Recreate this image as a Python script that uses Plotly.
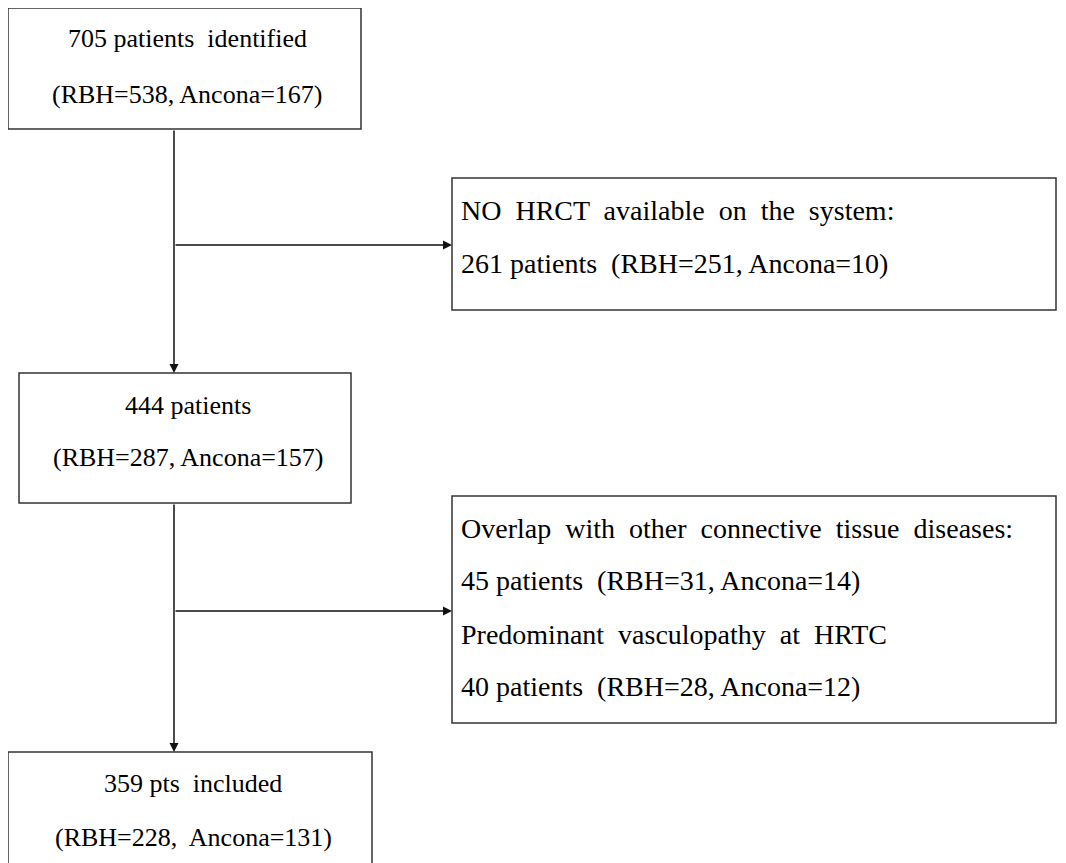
import plotly.graph_objects as go

W, H = 1066, 863
PAD = 8  # page body margin of the html

# box contents
main_lines = [
    ["705 patients  identified", "(RBH=538, Ancona=167)"],
    ["444 patients", "(RBH=287, Ancona=157)"],
    ["359 pts  included", "(RBH=228,  Ancona=131)"],
]
side_lines = [
    ["NO  HRCT  available  on  the  system:", "261 patients  (RBH=251, Ancona=10)"],
    ["Overlap  with  other  connective  tissue  diseases:",
     "45 patients  (RBH=31, Ancona=14)",
     "Predominant  vasculopathy  at  HRTC",
     "40 patients  (RBH=28, Ancona=12)"],
]

# layout in pixels (x0, y0, x1, y1), y downwards
main_boxes = [(8, 8, 361, 129), (19, 373, 351, 503), (8, 752, 372, 880)]
main_text_y = [[38, 94], [405, 457], [783, 837]]
side_boxes = [(452, 178, 1056, 310), (452, 496, 1056, 723)]
side_text_y = [[210, 263], [528, 580, 634, 686]]
spine_x = 174
branch_y = [245, 611]

FONT = dict(family="Liberation Serif", size=26, color="black")
FONT2 = dict(family="Liberation Serif", size=28, color="black")
LINE = dict(color="#333333", width=1.5)

fig = go.Figure()
shapes = []
ann = []

for (x0, y0, x1, y1), lines, ys in zip(main_boxes, main_lines, main_text_y):
    shapes.append(dict(type="rect", x0=x0, y0=y0, x1=x1, y1=y1, line=LINE))
    for t, y in zip(lines, ys):
        ann.append(dict(x=(x0 + x1) / 2 + 3, y=y, text=t, showarrow=False,
                        font=FONT, xanchor="center", yanchor="middle"))

for (x0, y0, x1, y1), lines, ys in zip(side_boxes, side_lines, side_text_y):
    shapes.append(dict(type="rect", x0=x0, y0=y0, x1=x1, y1=y1, line=LINE))
    for t, y in zip(lines, ys):
        ann.append(dict(x=x0 + 7, y=y, text=t, showarrow=False,
                        font=FONT2, xanchor="left", yanchor="middle"))

# arrows down the spine and out to the side boxes
def arrow(xs, ys, xe, ye):
    ann.append(dict(x=xe, y=ye, ax=xs, ay=ys, xref="x", yref="y", axref="x", ayref="y",
                    showarrow=True, arrowhead=2, arrowsize=1.2, arrowwidth=1.5,
                    arrowcolor="#111111", text=""))

arrow(spine_x, main_boxes[0][3], spine_x, main_boxes[1][1])
arrow(spine_x, main_boxes[1][3], spine_x, main_boxes[2][1])
for by, sb in zip(branch_y, side_boxes):
    arrow(spine_x, by, sb[0], by)

fig.update_layout(
    width=W, height=H, margin=dict(l=0, r=0, t=0, b=0),
    plot_bgcolor="white", paper_bgcolor="white",
    xaxis=dict(range=[PAD, W + PAD], visible=False, fixedrange=True),
    yaxis=dict(range=[H + PAD, PAD], visible=False, fixedrange=True),
    shapes=shapes, annotations=ann, showlegend=False,
)
fig.write_html("out.html")
